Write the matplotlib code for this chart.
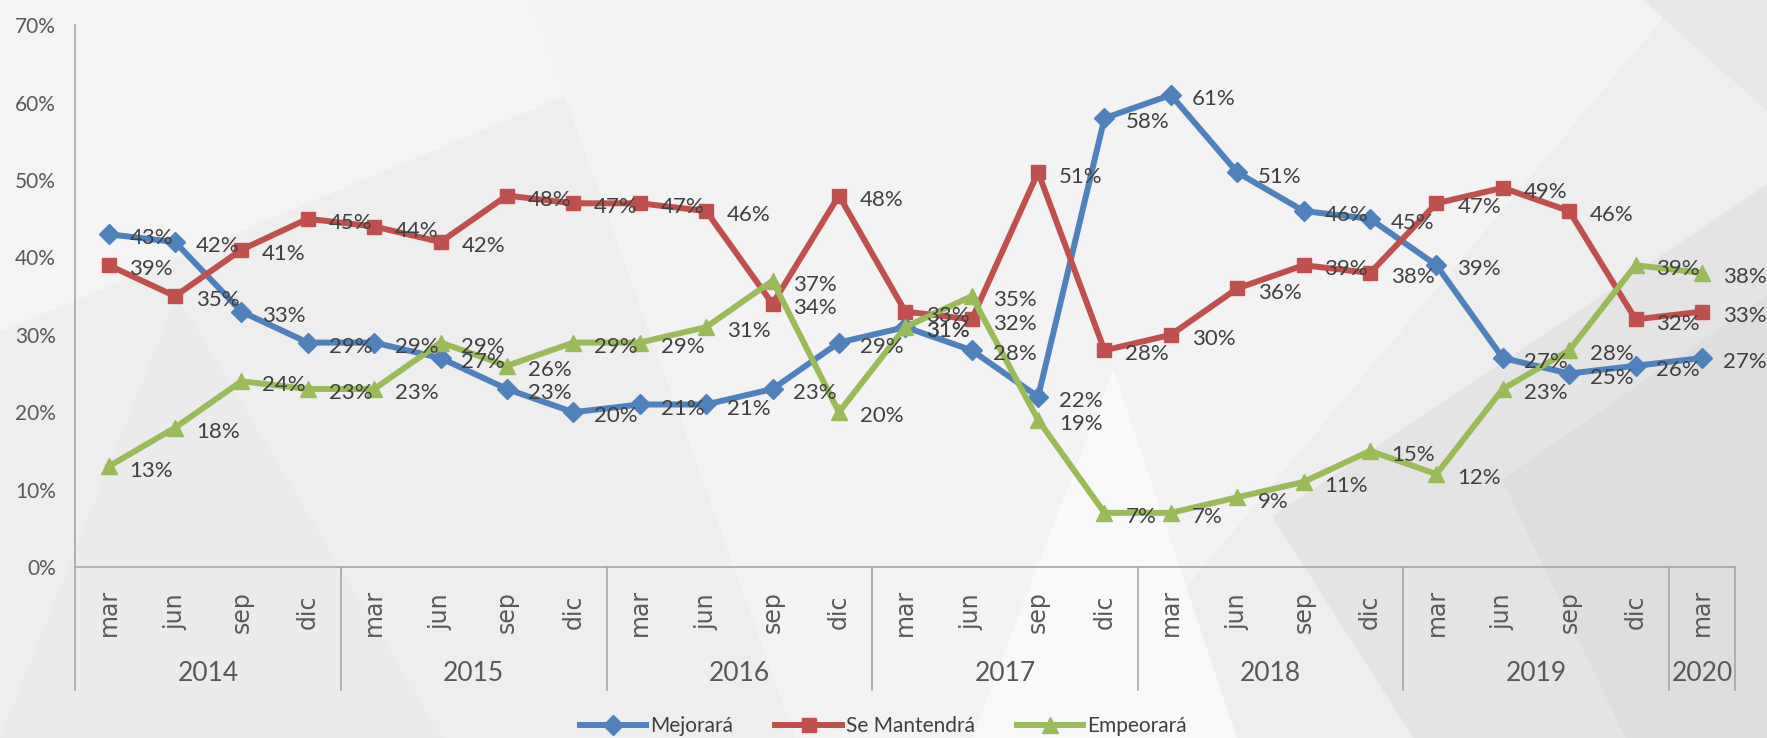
import numpy as np
import matplotlib
matplotlib.use('Agg')
import matplotlib.pyplot as plt
from matplotlib.patches import Polygon
from matplotlib import transforms

# Data
years = ['2014', '2015', '2016', '2017', '2018', '2019', '2020']
months_per_year = [4, 4, 4, 4, 4, 4, 1]
months = ['mar', 'jun', 'sep', 'dic'] * 6 + ['mar']

mejorara = [43, 42, 33, 29, 29, 27, 23, 20, 21, 21, 23, 29, 31, 28, 22, 58,
            61, 51, 46, 45, 39, 27, 25, 26, 27]
se_mantendra = [39, 35, 41, 45, 44, 42, 48, 47, 47, 46, 34, 48, 33, 32, 51, 28,
                30, 36, 39, 38, 47, 49, 46, 32, 33]
empeorara = [13, 18, 24, 23, 23, 29, 26, 29, 29, 31, 37, 20, 31, 35, 19, 7,
             7, 9, 11, 15, 12, 23, 28, 39, 38]

series = [
    ('Mejorará', mejorara, '#4F81BD', 'D', 10),
    ('Se Mantendrá', se_mantendra, '#C0504D', 's', 10),
    ('Empeorará', empeorara, '#9BBB59', '^', 12),
]

narrow = ['Lato', 'DejaVu Sans']
txt_color = '#404040'

fig = plt.figure(figsize=(17.67, 7.38), dpi=100)
fig.patch.set_facecolor('#eeeeee')

# light faceted background
bg = [
    ([(0, 0.55), (0, 1), (0.45, 1)], '#f4f4f4'),
    ([(0.0, 0.0), (0.25, 0.0), (0.1, 0.6)], '#ebebeb'),
    ([(0.3, 1), (0.95, 1), (0.6, 0.0), (0.45, 0.0)], '#f3f3f3'),
    ([(0.55, 0.0), (0.7, 0.0), (0.63, 0.5)], '#f9f9f9'),
    ([(0.8, 0.0), (1, 0.0), (1, 0.75), (0.72, 0.3)], '#e4e4e4'),
    ([(0.85, 0.35), (1, 0.6), (1, 0.0), (0.92, 0.0)], '#dedede'),
    ([(0.93, 1), (1, 1), (1, 0.85)], '#e8e8e8'),
]
for pts, c in bg:
    fig.patches.append(Polygon(pts, closed=True, transform=fig.transFigure,
                               facecolor=c, edgecolor='none', zorder=-10))

ax = fig.add_axes([0.0427, 0.2317, 0.9393, 0.734])
ax.set_facecolor('none')

x = np.arange(len(months))
for name, vals, color, mk, ms in series:
    ax.plot(x, vals, color=color, lw=4.3, marker=mk, markersize=ms,
            label=name, zorder=3)
    for xi, v in zip(x, vals):
        ax.annotate(f'{v}%', (xi, v), xytext=(15, -3), textcoords='offset points',
                    ha='left', va='center', fontsize=16, color=txt_color,
                    family=narrow, zorder=4)

ax.set_xlim(-0.5, len(months) - 0.5)
ax.set_ylim(0, 70)
ax.set_yticks(range(0, 71, 10))
ax.set_yticklabels([f'{t}%' for t in range(0, 71, 10)], family=narrow,
                   fontsize=15, color='#595959')
ax.tick_params(axis='y', length=0, pad=14)
ax.set_xticks([])

for s in ['top', 'right']:
    ax.spines[s].set_visible(False)
ax.spines['left'].set_color('#a6a6a6')
ax.spines['bottom'].set_color('#a6a6a6')
ax.spines['left'].set_linewidth(1.2)
ax.spines['bottom'].set_linewidth(1.2)

trans = transforms.blended_transform_factory(ax.transData, ax.transAxes)

# month labels
for xi, m in zip(x, months):
    ax.text(xi, -0.083, m, transform=trans, rotation=90, ha='center',
            va='center', fontsize=17, color='#595959', family='DejaVu Sans')

# year labels and separators
start = -0.5
bounds = [start]
for yr, n in zip(years, months_per_year):
    ax.text(start + n / 2, -0.197, yr, transform=trans, ha='center',
            va='center', fontsize=19, color='#595959', family=narrow)
    start += n
    bounds.append(start)
for b in bounds:
    ax.plot([b, b], [0, -0.227], transform=trans, color='#a6a6a6', lw=1.2,
            clip_on=False)

leg = fig.legend(loc='center', bbox_to_anchor=(0.5, 0.016), ncol=3,
                 frameon=False, prop={'family': narrow, 'size': 15},
                 handlelength=3.2, columnspacing=2.0, handletextpad=0.2)
for t in leg.get_texts():
    t.set_color(txt_color)

fig.savefig('out.png', dpi=100, facecolor=fig.get_facecolor())
